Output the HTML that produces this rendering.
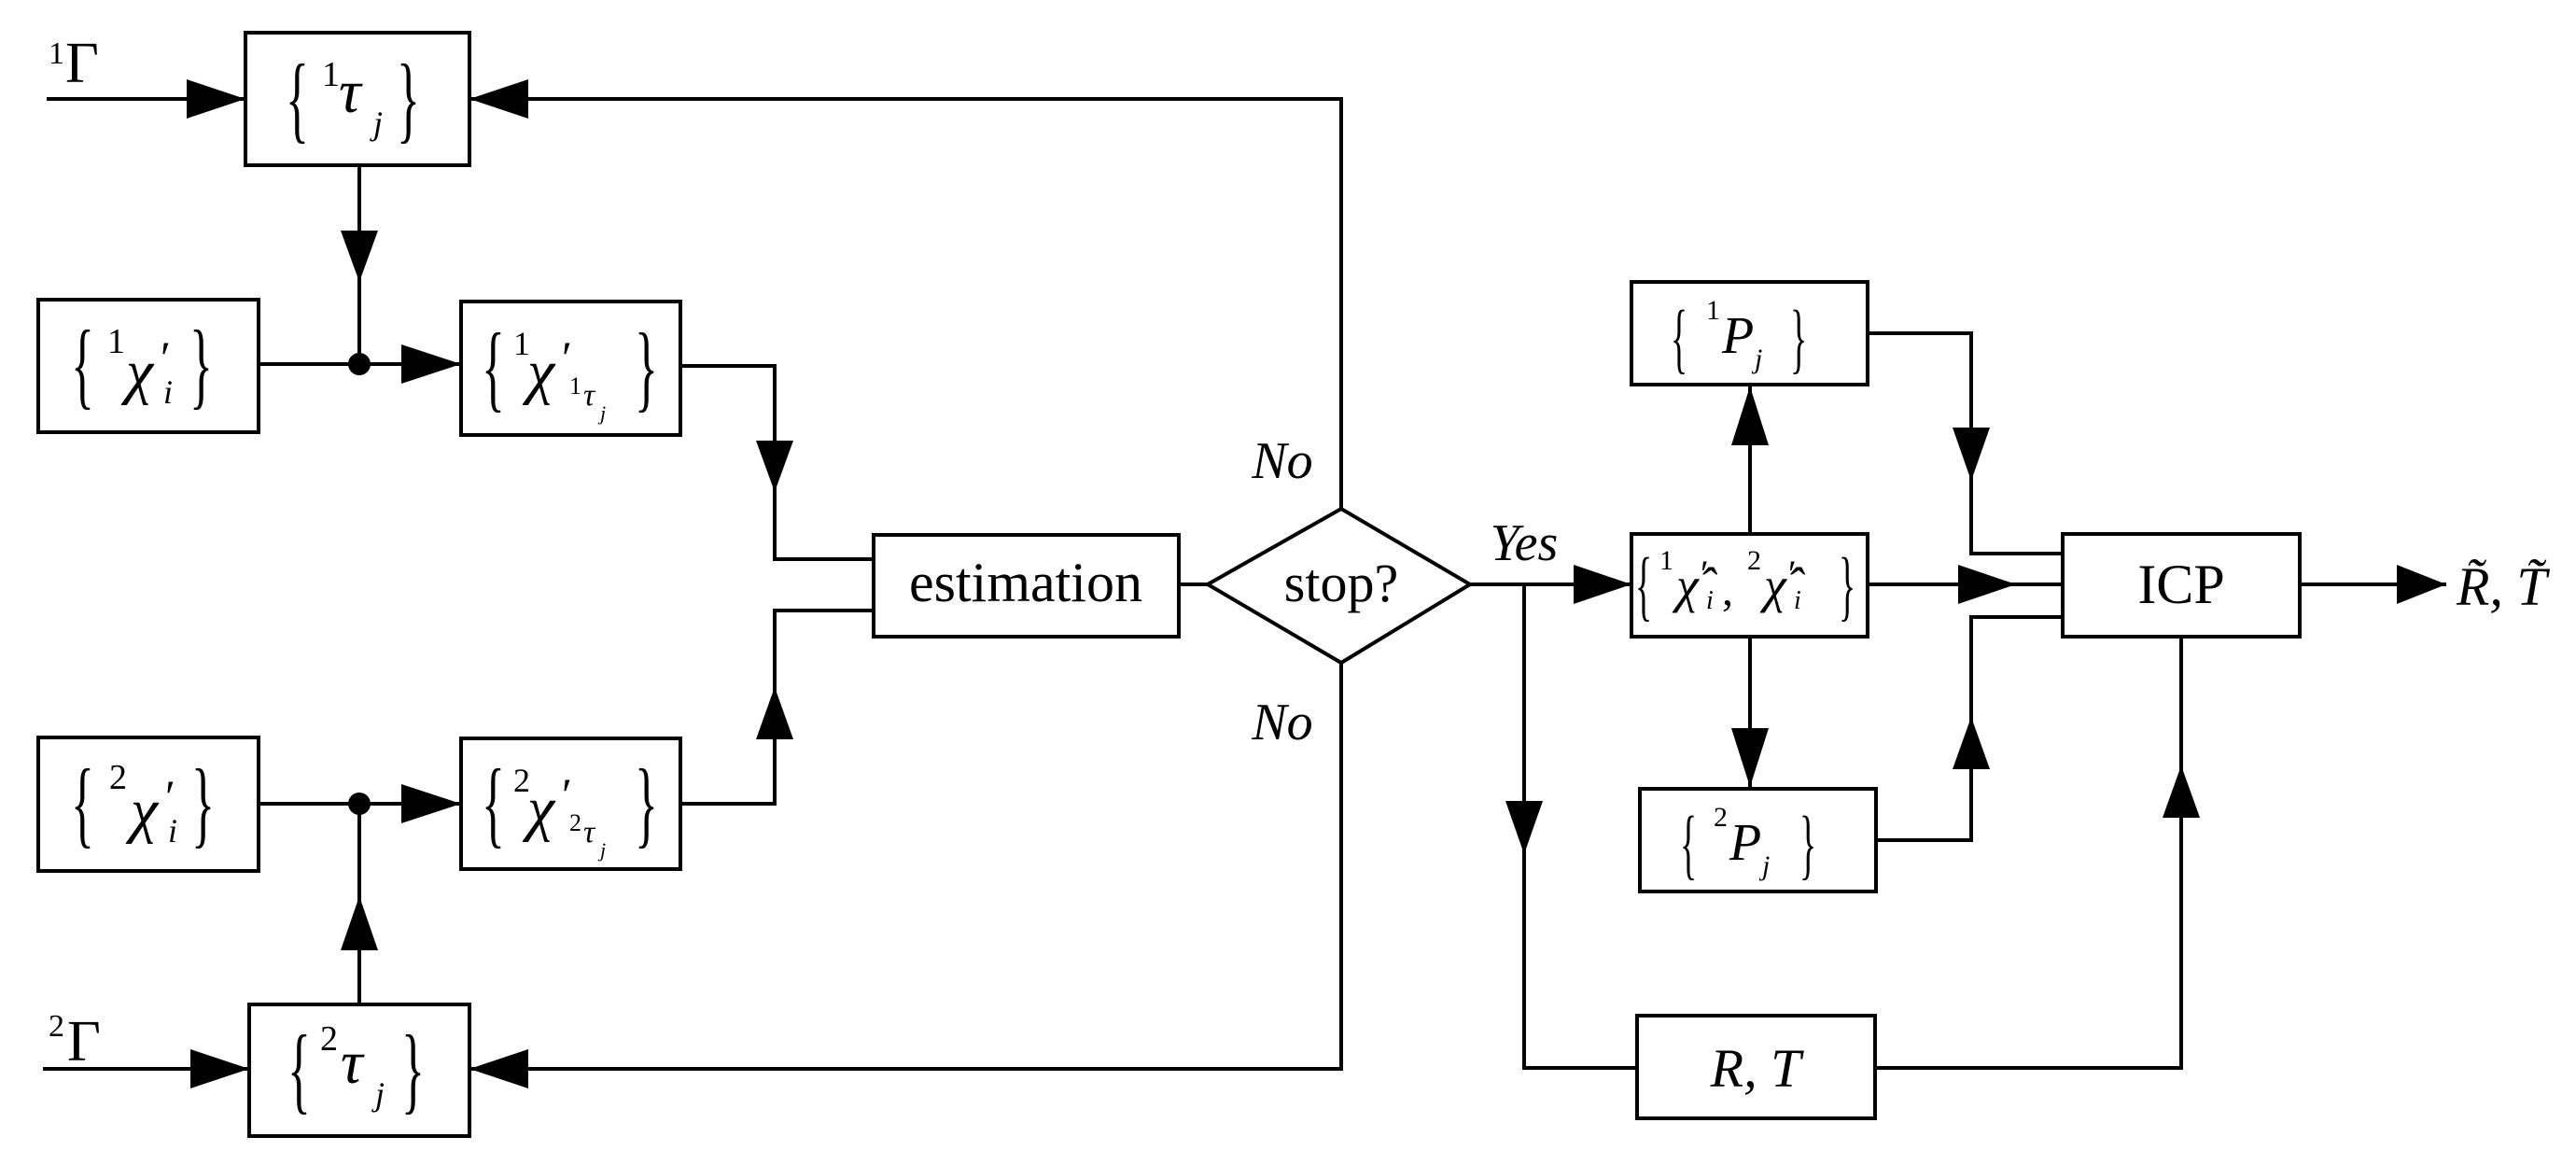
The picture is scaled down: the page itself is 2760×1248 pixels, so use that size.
<!DOCTYPE html>
<html><head><meta charset="utf-8"><style>
html,body{margin:0;padding:0;background:#fff;}
svg{display:block;}
text{font-family:"Liberation Serif",serif;fill:#000;}
.i{font-style:italic;}
</style></head><body>
<svg width="2760" height="1248" viewBox="0 0 2760 1248" xmlns="http://www.w3.org/2000/svg">
<g fill="none" stroke="#000" stroke-width="4">
<rect x="263" y="35" width="240" height="142"/>
<rect x="41" y="321" width="236" height="142"/>
<rect x="494" y="323" width="235" height="143"/>
<rect x="936" y="573" width="327" height="109"/>
<rect x="41" y="790" width="236" height="143"/>
<rect x="494" y="791" width="235" height="140"/>
<rect x="267" y="1076" width="236" height="141"/>
<polygon points="1294,626 1437,545 1575,626 1437,710"/>
<rect x="1748" y="302" width="253" height="110"/>
<rect x="1748" y="572" width="253" height="110"/>
<rect x="1757" y="845" width="253" height="110"/>
<rect x="2210" y="572" width="254" height="110"/>
<rect x="1754" y="1088" width="255" height="110"/>
<polyline points="50,106 263,106"/>
<polyline points="503,106 1437,106 1437,545"/>
<polyline points="385,177 385,390"/>
<polyline points="277,390 494,390"/>
<polyline points="729,392 830,392 830,599 936,599"/>
<polyline points="936,654 830,654 830,861 729,861"/>
<polyline points="277,861 494,861"/>
<polyline points="385,861 385,1076"/>
<polyline points="46,1145 267,1145"/>
<polyline points="503,1145 1437,1145 1437,710"/>
<polyline points="1263,626 1294,626"/>
<polyline points="1575,626 1748,626"/>
<polyline points="1633,626 1633,1144 1754,1144"/>
<polyline points="1875,572 1875,412"/>
<polyline points="1875,682 1875,845"/>
<polyline points="2001,357 2112,357 2112,593 2210,593"/>
<polyline points="2001,626 2210,626"/>
<polyline points="2010,900 2112,900 2112,661 2210,661"/>
<polyline points="2464,626 2621,626"/>
<polyline points="2009,1144 2337,1144 2337,682"/>
</g>
<g fill="#000" stroke="none">
<circle cx="385" cy="390" r="12"/>
<circle cx="385" cy="861" r="12"/>
<polygon points="200,85 263,106 200,127"/>
<polygon points="430,369 494,390 430,411"/>
<polygon points="430,840 494,861 430,882"/>
<polygon points="204,1124 267,1145 204,1166"/>
<polygon points="1686,605 1748,626 1686,647"/>
<polygon points="2098,605 2160,626 2098,647"/>
<polygon points="2568,605 2621,626 2568,647"/>
<polygon points="566,85 503,106 566,127"/>
<polygon points="566,1124 503,1145 566,1166"/>
<polygon points="365,247 405,247 385,302"/>
<polygon points="810,472 850,472 830,527"/>
<polygon points="1613,858 1653,858 1633,915"/>
<polygon points="1855,780 1895,780 1875,843"/>
<polygon points="2092,458 2132,458 2112,515"/>
<polygon points="365,1018 405,1018 385,960"/>
<polygon points="810,792 850,792 830,736"/>
<polygon points="1855,477 1895,477 1875,414"/>
<polygon points="2092,824 2132,824 2112,768"/>
<polygon points="2317,876 2357,876 2337,820"/>
</g>

<text x="52" y="68" font-size="34">1</text><text x="70" y="88" font-size="62">Γ</text>
<text x="52" y="1110" font-size="34">2</text><text x="72" y="1136" font-size="62">Γ</text>

<g font-size="104">
<text transform="translate(306,140) scale(0.5,1)">{</text>
<text transform="translate(425,140) scale(0.5,1)">}</text>
<text transform="translate(76,425) scale(0.5,1)">{</text>
<text transform="translate(203,425) scale(0.5,1)">}</text>
<text transform="translate(516,428) scale(0.5,1)">{</text>
<text transform="translate(680,428) scale(0.5,1)">}</text>
<text transform="translate(76,895) scale(0.5,1)">{</text>
<text transform="translate(205,895) scale(0.5,1)">}</text>
<text transform="translate(516,895) scale(0.5,1)">{</text>
<text transform="translate(680,895) scale(0.5,1)">}</text>
<text transform="translate(308,1180) scale(0.5,1)">{</text>
<text transform="translate(430,1180) scale(0.5,1)">}</text>
</g>
<g font-size="84">
<text transform="translate(1790,390) scale(0.45,1)">{</text>
<text transform="translate(1918,390) scale(0.45,1)">}</text>
<text transform="translate(1752,655) scale(0.45,1)">{</text>
<text transform="translate(1970,655) scale(0.45,1)">}</text>
<text transform="translate(1800,932) scale(0.45,1)">{</text>
<text transform="translate(1928,932) scale(0.45,1)">}</text>
</g>

<text x="345" y="92" font-size="38">1</text>
<text x="363" y="120" font-size="66" class="i">τ</text>
<text x="400" y="144" font-size="36" class="i">j</text>
<text x="343" y="1125" font-size="38">2</text>
<text x="365" y="1160" font-size="66" class="i">τ</text>
<text x="402" y="1184" font-size="36" class="i">j</text>

<text x="115" y="378" font-size="38">1</text>
<text x="135" y="420" font-size="66" class="i">χ</text>
<text x="172" y="400" font-size="50">′</text>
<text x="175" y="432" font-size="36" class="i">i</text>
<text x="117" y="845" font-size="38">2</text>
<text x="140" y="890" font-size="66" class="i">χ</text>
<text x="177" y="870" font-size="50">′</text>
<text x="180" y="902" font-size="36" class="i">i</text>

<text x="550" y="380" font-size="36">1</text>
<text x="565" y="420" font-size="66" class="i">χ</text>
<text x="602" y="400" font-size="50">′</text>
<text x="610" y="422" font-size="26">1</text>
<text x="625" y="434" font-size="34" class="i">τ</text>
<text x="643" y="450" font-size="22" class="i">j</text>
<text x="550" y="848" font-size="36">2</text>
<text x="565" y="888" font-size="66" class="i">χ</text>
<text x="602" y="868" font-size="50">′</text>
<text x="610" y="890" font-size="26">2</text>
<text x="625" y="902" font-size="34" class="i">τ</text>
<text x="643" y="918" font-size="22" class="i">j</text>

<text x="1099" y="644" font-size="60" text-anchor="middle">estimation</text>
<text x="1437" y="644" font-size="58" text-anchor="middle">stop?</text>
<text x="1374" y="512" font-size="56" class="i" text-anchor="middle">No</text>
<text x="1374" y="792" font-size="56" class="i" text-anchor="middle">No</text>
<text x="1633" y="600" font-size="56" class="i" text-anchor="middle">Yes</text>

<text x="1828" y="342" font-size="30">1</text>
<text x="1845" y="378" font-size="56" class="i">P</text>
<text x="1880" y="394" font-size="30" class="i">j</text>
<text x="1836" y="885" font-size="30">2</text>
<text x="1853" y="921" font-size="56" class="i">P</text>
<text x="1888" y="937" font-size="30" class="i">j</text>

<text x="1778" y="610" font-size="30">1</text>
<text x="1796" y="645" font-size="54" class="i">χ̂</text>
<text x="1822" y="628" font-size="40">′</text>
<text x="1828" y="652" font-size="28" class="i">i</text>
<text x="1845" y="648" font-size="48">,</text>
<text x="1872" y="610" font-size="30">2</text>
<text x="1890" y="645" font-size="54" class="i">χ̂</text>
<text x="1916" y="628" font-size="40">′</text>
<text x="1922" y="652" font-size="28" class="i">i</text>

<text x="2337" y="646" font-size="60" text-anchor="middle">ICP</text>
<text x="1881" y="1164" font-size="58" class="i" text-anchor="middle">R, T</text>
<text x="2632" y="648" font-size="58" class="i">R̃, T̃</text>
</svg>
</body></html>
